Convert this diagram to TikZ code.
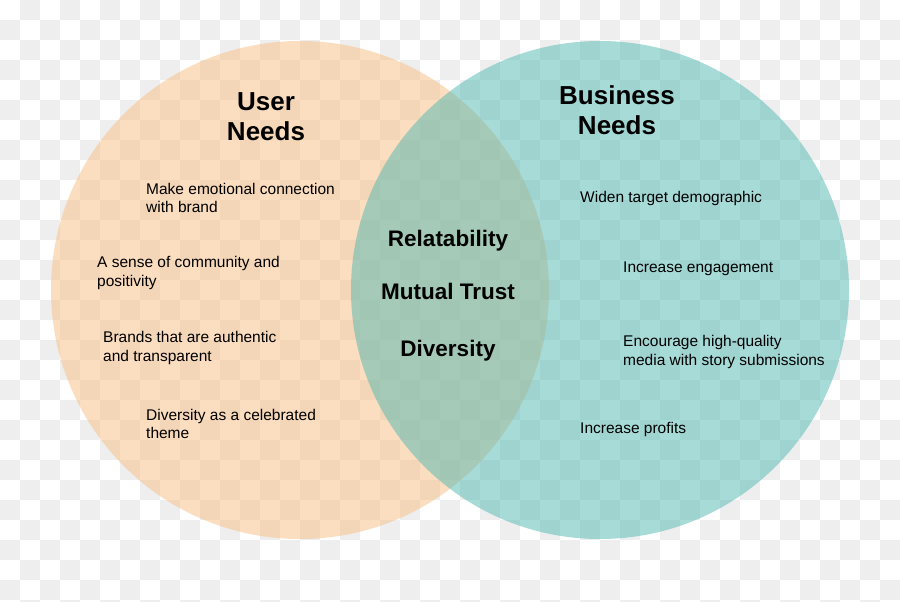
\documentclass[tikz,border=0pt]{standalone}
\usepackage{fontspec}
\setmainfont{Liberation Sans}
\usepackage{tikz}
\usetikzlibrary{positioning}
\definecolor{CheckGray}{HTML}{EEEEEE}
\definecolor{UserPeach}{RGB}{249,189,129}
\definecolor{BizTeal}{RGB}{81,185,179}

\tikzset{
  venn/.style={circle,minimum size=498pt,inner sep=0pt,fill opacity=.5},
  heading/.style={font=\bfseries\fontsize{26}{30}\selectfont,align=center,inner sep=0pt},
  shared/.style={font=\bfseries\fontsize{22.5}{27}\selectfont,inner sep=0pt},
  item/.style={font=\fontsize{15.5}{18.5}\selectfont,align=left,anchor=west,inner sep=0pt}
}

\begin{document}
\begin{tikzpicture}[x=1pt,y=-1pt]
  \useasboundingbox (0,0) rectangle (900,602);
  \clip (0,0) rectangle (900,602);
  % checkered backdrop
  \fill[white] (0,0) rectangle (900,602);
  \foreach \i in {0,...,44}
    \foreach \j in {0,...,30}{
      \ifodd\numexpr\i+\j\relax
        \fill[CheckGray] (20*\i,20*\j) rectangle ++(20,20);
      \fi
    }
  % the two sets
  \node[venn,fill=UserPeach] (user) at (300,290) {};
  \node[venn,fill=BizTeal] (biz) at (600,290) {};
  % headings
  \node[heading] (userhead) at (266,116.5) {User\\Needs};
  \node[heading] (bizhead) at (617,110.5) {Business\\Needs};
  % user needs
  \node[item] (u1) at (146,198) {Make emotional connection\\with brand};
  \node[item] (u2) at (97,273) {A sense of community and\\positivity};
  \node[item] (u3) at (103,348) {Brands that are authentic\\and transparent};
  \node[item] (u4) at (146,424) {Diversity as a celebrated\\theme};
  % business needs
  \node[item] (b1) at (580,198) {Widen target demographic};
  \node[item] (b2) at (623,269) {Increase engagement};
  \node[item] (b3) at (623,352) {Encourage high-quality\\media with story submissions};
  \node[item] (b4) at (580,429) {Increase profits};
  % overlap
  \node[shared] (s1) at (448,240.5) {Relatability};
  \node[shared] (s2) at (448,291.5) {Mutual Trust};
  \node[shared] (s3) at (448,350.5) {Diversity};
\end{tikzpicture}
\end{document}
